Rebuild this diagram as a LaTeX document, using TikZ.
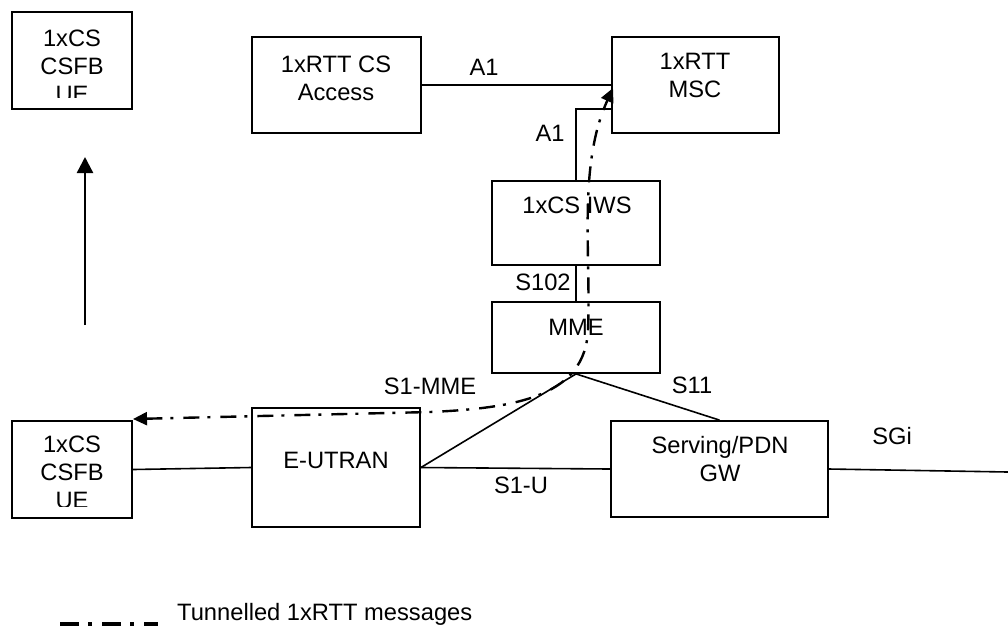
\documentclass[tikz,border=0pt]{standalone}
\usepackage{fontspec}
\setmainfont{Liberation Sans}
\usetikzlibrary{arrows.meta,calc}
\begin{document}
\begin{tikzpicture}[x=1pt,y=-1pt,
  every node/.style={font=\fontsize{23.7}{28}\selectfont},
  boxn/.style={draw,line width=1.8pt,inner sep=0pt,rectangle},
  txt/.style={inner sep=0pt,align=center},
  lbl/.style={inner sep=0pt,anchor=base},
  link/.style={line width=1.6pt},
  tunnel/.style={line width=2.4pt,dash pattern=on 16pt off 8pt on 3pt off 10pt},
  tiph/.style={Triangle[length=14pt,width=13pt]}
]
\useasboundingbox (0,0) rectangle (1008,625);

% boxes
\node[boxn,minimum width=120pt,minimum height=97pt] (ue1) at (72,60.5) {};
\node[boxn,minimum width=169pt,minimum height=96pt] (acc) at (336.5,85) {};
\node[boxn,minimum width=167pt,minimum height=96pt] (msc) at (695.5,85) {};
\node[boxn,minimum width=168pt,minimum height=84pt] (iws) at (576,223) {};
\node[boxn,minimum width=168pt,minimum height=71pt] (mme) at (576,337.5) {};
\node[boxn,minimum width=120pt,minimum height=97pt] (ue2) at (72,469.5) {};
\node[boxn,minimum width=168pt,minimum height=119pt] (eut) at (336,467.5) {};
\node[boxn,minimum width=217pt,minimum height=96pt] (gw) at (719.5,469) {};

% box texts
\begin{scope}
  \clip (14,14) rectangle (130,97);
  \node[txt,anchor=north] (tue1) at (72,29.7) {1xCS\\CSFB\\UE};
\end{scope}
\begin{scope}
  \clip (14,423) rectangle (130,506);
  \node[txt,anchor=north] (tue2) at (72,436) {1xCS\\CSFB\\UE};
\end{scope}
\node[txt,anchor=north] (tacc) at (336,56) {1xRTT CS\\Access};
\node[txt,anchor=north] (tmsc) at (695,53) {1xRTT\\MSC};
\node[lbl] (tiws) at (577,213) {1xCS IWS};
\node[lbl] (tmme) at (576,335) {MME};
\node[lbl] (teut) at (336,468) {E-UTRAN};
\node[txt,anchor=north] (tgw) at (720,436) {Serving/PDN\\GW};

% interface labels
\node[lbl] (la1) at (484,75) {A1};
\node[lbl] (la2) at (550,141) {A1};
\node[lbl] (ls102) at (543,290) {S102};
\node[lbl] (ls11) at (692,393) {S11};
\node[lbl] (ls1mme) at (430,394) {S1-MME};
\node[lbl] (ls1u) at (521,493) {S1-U};
\node[lbl] (lsgi) at (892,444) {SGi};

% connectors
\coordinate (mscA) at ([yshift=-24pt]msc.west);
\coordinate (sgiEnd) at (1008,472);
\draw[link] (acc.east) -- (msc.west);
\draw[link] (iws.north) |- (mscA);
\draw[link] (iws.south) -- (mme.north);
\draw[link] (mme.south) -- (eut.east);
\draw[link] (mme.south) -- (gw.north);
\draw[link] (ue2.east) -- (eut.west);
\draw[link] (eut.east) -- (gw.west);
\draw[link] (gw.east) -- (sgiEnd);

% upward arrow
\coordinate (upA) at (85,325);
\coordinate (upB) at (85,157);
\draw[line width=2.4pt,-{Triangle[length=16pt,width=16pt]}] (upA) -- (upB);

% tunnelled messages
\coordinate (tunL) at (133,419);
\coordinate (tunT) at (613,88);
\draw[tunnel,{Triangle[length=14pt,width=13pt]}-{Triangle[length=14pt,width=13pt]}]
  (tunL) -- (430,412) .. controls (520,408) and (585,395) .. (588,330)
  .. controls (591,250) and (578,165) .. (tunT);

% legend
\coordinate (legA) at (60,624);
\coordinate (legB) at (158,624);
\draw[line width=4pt,dash pattern=on 19pt off 9pt on 4pt off 10pt] (legA) -- (legB);
\node[lbl,anchor=base west] (legt) at (177,620) {Tunnelled 1xRTT messages};
\end{tikzpicture}
\end{document}
